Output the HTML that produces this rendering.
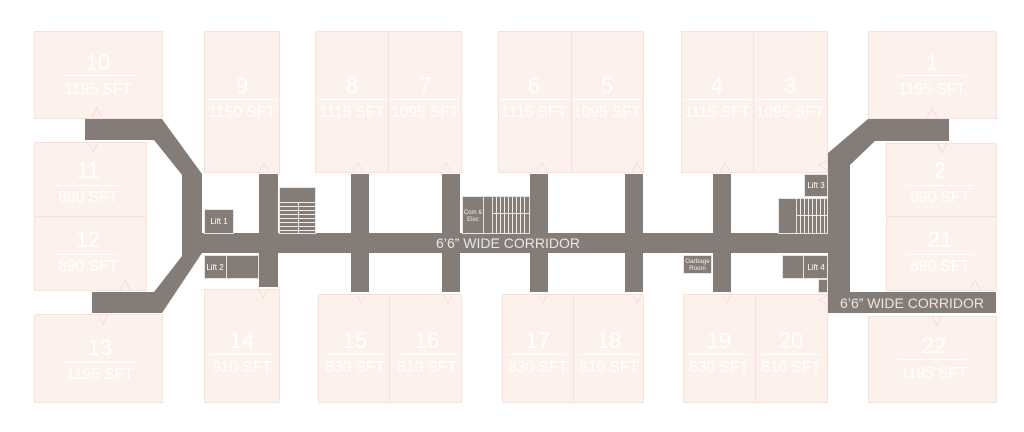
<!DOCTYPE html>
<html>
<head>
<meta charset="utf-8">
<style>
html,body{margin:0;padding:0;background:#fff;}
svg{display:block;}
.u{fill:#fdf1ec;stroke:#fae1d7;stroke-width:1;}
.n{fill:#fff;font-family:"Liberation Sans",sans-serif;font-size:22px;text-anchor:middle;}
.s{fill:#fff;font-family:"Liberation Sans",sans-serif;font-size:15.5px;text-anchor:middle;}
.ln{stroke:#fff;stroke-width:1;}
.c{fill:#847c77;}
.d{fill:#847c77;stroke:#e9e4e1;stroke-width:1;}
.tri{fill:none;stroke:#f7dcd1;stroke-width:1;}
.lt{fill:#fff;font-family:"Liberation Sans",sans-serif;font-size:8px;text-anchor:middle;}
.sm{fill:#eee;font-family:"Liberation Sans",sans-serif;font-size:6px;text-anchor:middle;}
.cor{fill:#ebe5e1;font-family:"Liberation Sans",sans-serif;font-size:14px;text-anchor:middle;}
.st{stroke:#f0ecea;stroke-width:1;}
</style>
</head>
<body>
<svg width="1024" height="432" viewBox="0 0 1024 432" xmlns="http://www.w3.org/2000/svg">
<!-- Units top row -->
<rect class="u" x="34.5" y="31.5" width="128" height="87"/>
<rect class="u" x="204.5" y="31.5" width="75" height="141"/>
<rect class="u" x="315.5" y="31.5" width="73" height="141"/>
<rect class="u" x="388.5" y="31.5" width="73" height="141"/>
<rect class="u" x="498.5" y="31.5" width="73" height="141"/>
<rect class="u" x="571.5" y="31.5" width="72" height="141"/>
<rect class="u" x="681.5" y="31.5" width="72" height="141"/>
<rect class="u" x="753.5" y="31.5" width="74" height="141"/>
<rect class="u" x="868.5" y="31.5" width="128" height="87"/>
<!-- left column -->
<rect class="u" x="34.5" y="142.5" width="112" height="74"/>
<rect class="u" x="34.5" y="216.5" width="112" height="74"/>
<rect class="u" x="34.5" y="314.5" width="128" height="88"/>
<!-- right column -->
<rect class="u" x="886.5" y="143.5" width="110" height="73"/>
<rect class="u" x="886.5" y="216.5" width="110" height="74"/>
<rect class="u" x="868.5" y="316.5" width="128" height="86"/>
<!-- bottom row -->
<rect class="u" x="204.5" y="289.5" width="75" height="113"/>
<rect class="u" x="318.5" y="294.5" width="71" height="108"/>
<rect class="u" x="389.5" y="294.5" width="72" height="108"/>
<rect class="u" x="502.5" y="294.5" width="71" height="108"/>
<rect class="u" x="573.5" y="294.5" width="70" height="108"/>
<rect class="u" x="683.5" y="294.5" width="72" height="108"/>
<rect class="u" x="755.5" y="294.5" width="72" height="108"/>

<!-- Unit labels -->
<g>
<text class="n" x="98" y="70">10</text><line class="ln" x1="62" y1="75.5" x2="137" y2="75.5"/><text class="s" x="98" y="94">1195 SFT</text>
<text class="n" x="242" y="93">9</text><line class="ln" x1="206" y1="99.5" x2="277" y2="99.5"/><text class="s" x="242" y="117">1150 SFT</text>
<text class="n" x="352" y="93">8</text><line class="ln" x1="317" y1="99.5" x2="386" y2="99.5"/><text class="s" x="352" y="117">1115 SFT</text>
<text class="n" x="425" y="93">7</text><line class="ln" x1="390" y1="99.5" x2="459" y2="99.5"/><text class="s" x="425" y="117">1095 SFT</text>
<text class="n" x="534" y="93">6</text><line class="ln" x1="500" y1="99.5" x2="569" y2="99.5"/><text class="s" x="534" y="117">1115 SFT</text>
<text class="n" x="607" y="93">5</text><line class="ln" x1="573" y1="99.5" x2="641" y2="99.5"/><text class="s" x="607" y="117">1095 SFT</text>
<text class="n" x="717" y="93">4</text><line class="ln" x1="683" y1="99.5" x2="751" y2="99.5"/><text class="s" x="717" y="117">1115 SFT</text>
<text class="n" x="790" y="93">3</text><line class="ln" x1="755" y1="99.5" x2="825" y2="99.5"/><text class="s" x="790" y="117">1095 SFT</text>
<text class="n" x="932" y="70">1</text><line class="ln" x1="898" y1="75.5" x2="966" y2="75.5"/><text class="s" x="932" y="94">1195 SFT</text>

<text class="n" x="88" y="178">11</text><line class="ln" x1="54" y1="185.5" x2="120" y2="185.5"/><text class="s" x="88" y="202">890 SFT</text>
<text class="n" x="88" y="247">12</text><line class="ln" x1="57" y1="254.5" x2="116" y2="254.5"/><text class="s" x="88" y="271">890 SFT</text>
<text class="n" x="100" y="355">13</text><line class="ln" x1="62" y1="362.5" x2="137" y2="362.5"/><text class="s" x="100" y="379">1195 SFT</text>

<text class="n" x="940" y="178">2</text><line class="ln" x1="906" y1="185.5" x2="974" y2="185.5"/><text class="s" x="940" y="202">890 SFT</text>
<text class="n" x="940" y="247">21</text><line class="ln" x1="906" y1="254.5" x2="974" y2="254.5"/><text class="s" x="940" y="271">890 SFT</text>
<text class="n" x="934" y="353">22</text><line class="ln" x1="898" y1="359.5" x2="966" y2="359.5"/><text class="s" x="934" y="378">1195 SFT</text>

<text class="n" x="242" y="348">14</text><line class="ln" x1="210" y1="354.5" x2="272" y2="354.5"/><text class="s" x="242" y="372">910 SFT</text>
<text class="n" x="355" y="348">15</text><line class="ln" x1="325" y1="354.5" x2="383" y2="354.5"/><text class="s" x="355" y="372">830 SFT</text>
<text class="n" x="427" y="348">16</text><line class="ln" x1="397" y1="354.5" x2="455" y2="354.5"/><text class="s" x="427" y="372">810 SFT</text>
<text class="n" x="538" y="348">17</text><line class="ln" x1="508" y1="354.5" x2="566" y2="354.5"/><text class="s" x="538" y="372">830 SFT</text>
<text class="n" x="609" y="348">18</text><line class="ln" x1="580" y1="354.5" x2="638" y2="354.5"/><text class="s" x="609" y="372">810 SFT</text>
<text class="n" x="719" y="348">19</text><line class="ln" x1="689" y1="354.5" x2="748" y2="354.5"/><text class="s" x="719" y="372">830 SFT</text>
<text class="n" x="791" y="348">20</text><line class="ln" x1="762" y1="354.5" x2="820" y2="354.5"/><text class="s" x="791" y="372">810 SFT</text>
</g>

<!-- door triangles -->
<g class="tri">
<path d="M92 118 L97 108 L102 118"/>
<path d="M88 142 L93 152 L98 142"/>
<path d="M259 172 L264 163 L269 172"/>
<path d="M120 290 L125 280 L130 290"/>
<path d="M98 314 L103 324 L108 314"/>
<path d="M258 289 L263 298 L268 289"/>
<path d="M353 172 L358 163 L363 172"/>
<path d="M441 172 L446 163 L451 172"/>
<path d="M537 172 L542 163 L547 172"/>
<path d="M632 172 L637 163 L642 172"/>
<path d="M356 294 L361 303 L366 294"/>
<path d="M443 294 L448 303 L453 294"/>
<path d="M538 294 L543 303 L548 294"/>
<path d="M632 294 L637 303 L642 294"/>
<path d="M720 172 L725 163 L730 172"/>
<path d="M827 160 L819 165 L827 170"/>
<path d="M927 118 L932 108 L937 118"/>
<path d="M937 143 L942 153 L947 143"/>
<path d="M722 294 L727 303 L732 294"/>
<path d="M827 295 L819 300 L827 305"/>
<path d="M970 290 L975 280 L980 290"/>
<path d="M932 316 L937 326 L942 316"/>
</g>

<!-- Corridors -->
<g>
<polygon class="c" points="85,119 162,119 202,174 202,253 162,313 92,313 92,292 154,292 182,256 182,175 154,140 85,140"/>
<rect class="c" x="200" y="233" width="630" height="20"/>
<rect class="c" x="259" y="174" width="19" height="113"/>
<rect class="c" x="351" y="174" width="18" height="118"/>
<rect class="c" x="442" y="174" width="18" height="118"/>
<rect class="c" x="530" y="174" width="18" height="118"/>
<rect class="c" x="625" y="174" width="18" height="118"/>
<rect class="c" x="713" y="174" width="18" height="118"/>
<polygon class="c" points="949,119 949,141 875,141 850,165 850,292 996,292 996,313 828,313 828,153 868,119"/>
</g>

<!-- Lifts and service rooms -->
<rect class="d" x="204.5" y="209.5" width="29" height="24"/>
<text class="lt" x="219" y="224">Lift 1</text>
<rect class="d" x="204.5" y="255.5" width="22" height="23"/>
<rect class="d" x="226.5" y="255.5" width="32" height="23"/>
<text class="lt" x="215" y="270">Lift 2</text>

<!-- left stairs -->
<rect class="d" x="279.5" y="187.5" width="36" height="46"/>
<g class="st">
<line x1="280" y1="202.5" x2="315" y2="202.5"/>
<line x1="280" y1="206.5" x2="315" y2="206.5"/>
<line x1="280" y1="210.5" x2="315" y2="210.5"/>
<line x1="280" y1="214.5" x2="315" y2="214.5"/>
<line x1="280" y1="218.5" x2="315" y2="218.5"/>
<line x1="280" y1="222.5" x2="315" y2="222.5"/>
<line x1="280" y1="226.5" x2="315" y2="226.5"/>
<line x1="280" y1="230.5" x2="315" y2="230.5"/>
<line x1="298.5" y1="202" x2="298.5" y2="233"/>
</g>

<!-- center service -->
<rect class="d" x="462.5" y="196.5" width="21" height="37"/>
<text class="sm" x="473" y="214">Com &amp;</text>
<text class="sm" x="473" y="221">Elec</text>
<rect class="d" x="483.5" y="196.5" width="9" height="37"/>
<rect class="d" x="492.5" y="196.5" width="37" height="37"/>
<g class="st">
<line x1="496.5" y1="197" x2="496.5" y2="233"/>
<line x1="500.5" y1="197" x2="500.5" y2="233"/>
<line x1="504.5" y1="197" x2="504.5" y2="233"/>
<line x1="508.5" y1="197" x2="508.5" y2="233"/>
<line x1="512.5" y1="197" x2="512.5" y2="233"/>
<line x1="516.5" y1="197" x2="516.5" y2="233"/>
<line x1="520.5" y1="197" x2="520.5" y2="233"/>
<line x1="524.5" y1="197" x2="524.5" y2="233"/>
<line x1="493" y1="213.5" x2="529" y2="213.5"/>
</g>

<!-- garbage -->
<rect class="d" x="683.5" y="255.5" width="28" height="18"/>
<text class="sm" x="697.5" y="263" style="font-size:6.3px">Garbage</text>
<text class="sm" x="697.5" y="270" style="font-size:6.3px">Room</text>

<!-- right stairs / lifts -->
<rect class="d" x="804.5" y="174.5" width="23" height="22"/>
<text class="lt" x="816" y="188">Lift 3</text>
<rect class="d" x="778.5" y="198.5" width="18" height="35"/>
<rect class="d" x="796.5" y="198.5" width="31" height="35"/>
<g class="st">
<line x1="800.5" y1="199" x2="800.5" y2="233"/>
<line x1="804.5" y1="199" x2="804.5" y2="233"/>
<line x1="808.5" y1="199" x2="808.5" y2="233"/>
<line x1="812.5" y1="199" x2="812.5" y2="233"/>
<line x1="816.5" y1="199" x2="816.5" y2="233"/>
<line x1="820.5" y1="199" x2="820.5" y2="233"/>
<line x1="824.5" y1="199" x2="824.5" y2="233"/>
<line x1="796" y1="215.5" x2="827" y2="215.5"/>
</g>
<rect class="d" x="782.5" y="255.5" width="21" height="23"/>
<rect class="d" x="803.5" y="255.5" width="24" height="23"/>
<text class="lt" x="816" y="270">Lift 4</text>
<rect class="d" x="818.5" y="279.5" width="9" height="13"/>

<!-- corridor labels -->
<text class="cor" x="508" y="248">6’6” WIDE CORRIDOR</text>
<text class="cor" x="912" y="308">6’6” WIDE CORRIDOR</text>
</svg>
</body>
</html>
